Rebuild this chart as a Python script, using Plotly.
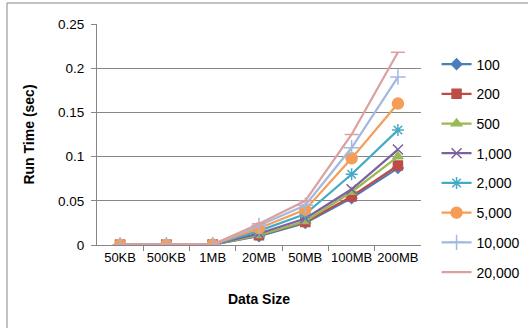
import plotly.graph_objects as go

categories = ["50KB", "500KB", "1MB", "20MB", "50MB", "100MB", "200MB"]
series_names = ["100", "200", "500", "1,000", "2,000", "5,000", "10,000", "20,000"]
s100 = [0.0003, 0.0003, 0.0004, 0.010, 0.025, 0.053, 0.087]
s200 = [0.0003, 0.0003, 0.0004, 0.011, 0.026, 0.055, 0.090]
s500 = [0.0003, 0.0003, 0.0004, 0.011, 0.027, 0.060, 0.100]
s1000 = [0.0003, 0.0003, 0.0005, 0.013, 0.030, 0.063, 0.108]
s2000 = [0.0003, 0.0003, 0.0005, 0.016, 0.035, 0.080, 0.130]
s5000 = [0.0003, 0.0003, 0.0005, 0.019, 0.040, 0.098, 0.160]
s10000 = [0.0003, 0.0003, 0.0006, 0.022, 0.045, 0.110, 0.190]
s20000 = [0.0003, 0.0003, 0.0006, 0.024, 0.050, 0.125, 0.218]
values = [s100, s200, s500, s1000, s2000, s5000, s10000, s20000]

colors = ["#4A7EBB", "#BE4B48", "#98B954", "#7D60A0", "#46AAC5", "#F59D56", "#A2B9E0", "#DDA0A0"]
symbols = ["diamond", "square", "triangle-up", "x-thin-open", "asterisk-open", "circle", "cross-thin-open", "line-ew-open"]
sizes = [8, 9, 9, 10, 10, 11, 11, 10]

fig = go.Figure()
for name, vals, c, sym, sz in zip(series_names, values, colors, symbols, sizes):
    fig.add_trace(go.Scatter(
        x=categories, y=vals, name=name, mode="lines+markers",
        line=dict(color=c, width=2.25),
        marker=dict(symbol=sym, size=sz, color=c, line=dict(color=c, width=1.5)),
        legendgroup=name,
    ))

font = "Liberation Sans"
fig.update_layout(
    width=528, height=328,
    margin=dict(l=97, r=107, t=24, b=83, autoexpand=False),
    paper_bgcolor="white", plot_bgcolor="white",
    showlegend=True,
    legend=dict(x=1.048, y=0.346, xanchor="left", yanchor="middle",
                font=dict(family=font, size=14, color="black"),
                tracegroupgap=8.5, itemwidth=30, bgcolor="rgba(0,0,0,0)",
                maxheight=320),
    font=dict(family=font, size=13, color="black"),
    xaxis=dict(type="category", tickson="boundaries", ticks="outside", ticklen=5,
               tickcolor="#868686", showline=True, linecolor="#868686", linewidth=1,
               showgrid=False, tickfont=dict(size=13), tickangle=0,
               title=dict(text="<b>Data Size</b>", font=dict(size=14), standoff=30)),
    yaxis=dict(range=[0, 0.25], dtick=0.05, ticks="outside", ticklen=5,
               tickcolor="#868686", showline=True, linecolor="#868686", linewidth=1,
               showgrid=True, gridcolor="#868686", gridwidth=1, zeroline=False,
               tickfont=dict(size=13.5), ticklabelstandoff=4,
               title=dict(text="<b>Run Time (sec)</b>", font=dict(size=14), standoff=20)),
    shapes=[dict(type="rect", xref="paper", yref="paper",
                 x0=(7 - 97) / 324, x1=1.5, y0=-0.5, y1=1 + (24 - 3) / 221,
                 line=dict(color="#868686", width=1), layer="below")],
)
fig.write_html("out.html")
